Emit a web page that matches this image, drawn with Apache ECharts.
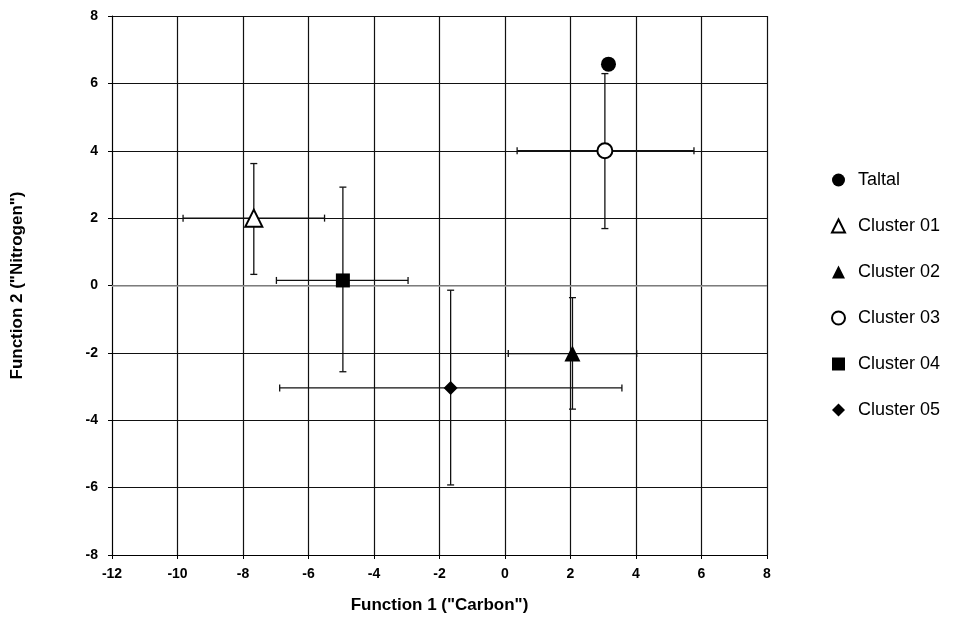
<!DOCTYPE html>
<html>
<head>
<meta charset="utf-8">
<script src="https://cdn.jsdelivr.net/npm/echarts@6/dist/echarts.min.js"></script>
<style>
  html, body { margin: 0; padding: 0; background: #fff; }
  #chart { width: 955px; height: 619px; }
</style>
</head>
<body>
<div id="chart"></div>
<script>
// group centroids with error ranges
const names   = ['Taltal', 'Cluster 01', 'Cluster 02', 'Cluster 03', 'Cluster 04', 'Cluster 05'];
const symbols = ['circle', 'emptyTriangle', 'triangle', 'emptyCircle', 'rect', 'diamond'];
const xVals   = [3.16, -7.67, 2.06, 3.05, -4.95, -1.66];
const yVals   = [6.57, 2.0, -2.02, 4.0, 0.15, -3.04];
const xLow    = [null, -9.83, 0.1, 0.37, -6.98, -6.88];
const xHigh   = [null, -5.51, 4.02, 5.77, -2.96, 3.57];
const yLow    = [null, 0.33, -3.67, 1.69, -2.56, -5.92];
const yHigh   = [null, 3.62, -0.36, 6.29, 2.92, -0.14];
const xTicks  = [-12, -10, -8, -6, -4, -2, 0, 2, 4, 6, 8];
const yTicks  = [-8, -6, -4, -2, 0, 2, 4, 6, 8];

const chart = echarts.init(document.getElementById('chart'), null, {renderer: 'canvas'});

const labelFont = {fontFamily: 'Arial, "Liberation Sans"', fontWeight: 'bold', fontSize: 14, color: '#000'};
const symbolSizes = [15, 17, 16, 15, 14, 14];

const barData = [];
names.forEach((n, i) => {
  if (xLow[i] !== null) barData.push([xVals[i], yVals[i], xLow[i], xHigh[i], yLow[i], yHigh[i]]);
});

function renderBars(params, api) {
  const x = api.value(0), y = api.value(1);
  const c = api.coord([x, y]);
  const l = api.coord([api.value(2), y]);
  const r = api.coord([api.value(3), y]);
  const b = api.coord([x, api.value(4)]);
  const t = api.coord([x, api.value(5)]);
  const cap = 3.5;
  const st = {stroke: '#111', lineWidth: 1.3};
  const seg = (x1, y1, x2, y2) => ({type: 'line', shape: {x1, y1, x2, y2}, style: st});
  return {
    type: 'group',
    children: [
      seg(l[0], c[1], r[0], c[1]),
      seg(l[0], c[1] - cap, l[0], c[1] + cap),
      seg(r[0], c[1] - cap, r[0], c[1] + cap),
      seg(c[0], t[1], c[0], b[1]),
      seg(c[0] - cap, t[1], c[0] + cap, t[1]),
      seg(c[0] - cap, b[1], c[0] + cap, b[1])
    ]
  };
}

const series = [{
  name: 'errors',
  type: 'custom',
  renderItem: renderBars,
  data: barData,
  z: 2,
  silent: true,
  markLine: {
    silent: true,
    symbol: 'none',
    label: {show: false},
    lineStyle: {color: '#a0a0a0', type: 'solid', width: 1.5},
    data: [{yAxis: 0}]
  }
}];

names.forEach((n, i) => {
  const empty = symbols[i].indexOf('empty') === 0;
  series.push({
    name: n,
    type: 'scatter',
    symbol: symbols[i],
    symbolSize: symbolSizes[i],
    z: 5,
    itemStyle: empty
      ? {color: '#000', borderColor: '#000', borderWidth: 2, opacity: 1}
      : {color: '#000', opacity: 1},
    data: [[xVals[i], yVals[i]]]
  });
});

const option = {
  backgroundColor: '#fff',
  animation: false,
  grid: {left: 112, right: 188, top: 16, bottom: 62},
  xAxis: {
    type: 'value',
    min: xTicks[0], max: xTicks[xTicks.length - 1], interval: 2,
    name: 'Function 1 ("Carbon")',
    nameLocation: 'middle',
    nameGap: 42,
    nameTextStyle: {fontFamily: 'Arial, "Liberation Sans"', fontWeight: 'bold', fontSize: 17, color: '#000'},
    axisLine: {onZero: false, lineStyle: {color: '#000', width: 1}},
    axisTick: {show: true, length: 4, lineStyle: {color: '#000'}},
    axisLabel: Object.assign({margin: 12}, labelFont),
    splitLine: {show: true, lineStyle: {color: '#111', width: 1.2}}
  },
  yAxis: {
    type: 'value',
    min: yTicks[0], max: yTicks[yTicks.length - 1], interval: 2,
    name: 'Function 2 ("Nitrogen")',
    nameLocation: 'middle',
    nameGap: 86,
    nameRotate: 90,
    nameTextStyle: {fontFamily: 'Arial, "Liberation Sans"', fontWeight: 'bold', fontSize: 17, color: '#000'},
    axisLine: {show: true, onZero: false, lineStyle: {color: '#000', width: 1}},
    axisTick: {show: true, length: 4, lineStyle: {color: '#000'}},
    axisLabel: Object.assign({margin: 14}, labelFont),
    splitLine: {show: true, lineStyle: {color: '#111', width: 1.2}}
  },
  legend: {
    data: names,
    orient: 'vertical',
    left: 826,
    top: 166,
    itemWidth: 13,
    itemHeight: 13,
    itemGap: 28,
    textStyle: {fontFamily: 'Arial, "Liberation Sans"', fontSize: 18, color: '#000', padding: [0, 0, 0, 8]}
  },
  series: series
};

chart.setOption(option);
</script>
</body>
</html>
